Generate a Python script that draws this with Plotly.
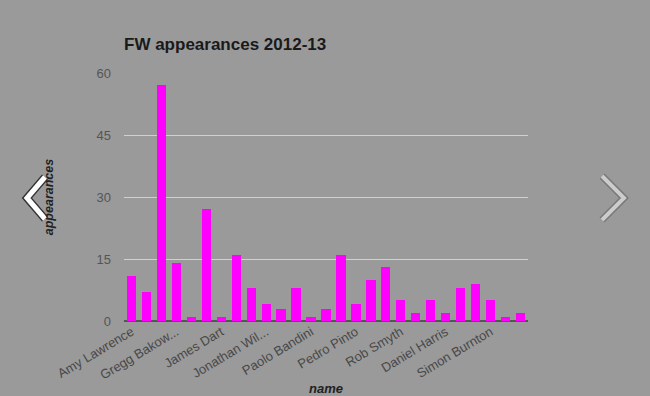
import plotly.graph_objects as go

# ---- data ----
appearances = [11, 7, 57, 14, 1, 27, 1, 16, 8, 4, 3, 8, 1, 3, 16, 4, 10, 13, 5, 2, 5, 2, 8, 9, 5, 1, 2]
shown_labels = ["Amy Lawrence", "Gregg Bakow...", "James Dart", "Jonathan Wil...", "Paolo Bandini",
                "Pedro Pinto", "Rob Smyth", "Daniel Harris", "Simon Burnton"]
label_every = 3
y_ticks = [0, 15, 30, 45, 60]

W, H = 650, 396
L, R, T, B = 124, 122, 73, 75
BG = "#9a9a9a"
FONT = "Liberation Sans, Arial, sans-serif"

positions = list(range(len(appearances)))
tick_positions = positions[::label_every]

fig = go.Figure(go.Bar(x=positions, y=appearances, marker_color="#ff00ff", width=0.62,
                       marker_line_width=0))

def px2paper(px, py):
    return (px - L) / (W - L - R), (H - B - py) / (H - T - B)

def chevron(points, color, width):
    pts = [px2paper(*p) for p in points]
    path = "M {} {} L {} {} L {} {}".format(pts[0][0], pts[0][1], pts[1][0], pts[1][1], pts[2][0], pts[2][1])
    return dict(type="path", xref="paper", yref="paper", path=path,
                line=dict(color=color, width=width), layer="above")

left = [(45, 177), (27, 198), (45, 219)]
right = [(602, 176), (624, 198), (602, 220)]
shapes = [chevron(left, "#333333", 8), chevron(left, "#ffffff", 5),
          chevron(right, "#777777", 7), chevron(right, "#cccccc", 4)]

fig.update_layout(
    width=W, height=H,
    margin=dict(l=L, r=R, t=T, b=B, autoexpand=False),
    paper_bgcolor=BG, plot_bgcolor=BG,
    font=dict(family=FONT, color="#444444", size=12),
    showlegend=False,
    bargap=0,
    title=dict(text="FW appearances 2012-13", x=L / W, xanchor="left", xref="container",
               y=1 - 44 / H, yanchor="middle", yref="container",
               font=dict(family=FONT, size=17, color="#1a1a1a", weight="bold")),
    xaxis=dict(range=[-0.5, len(appearances) - 0.5], tickmode="array", automargin=False,
               tickvals=tick_positions, ticktext=shown_labels, tickangle=-31,
               showgrid=False, zeroline=False, showline=False, ticks="",
               tickfont=dict(size=13, color="#484848"),
               title=dict(text="name", standoff=4,
                          font=dict(size=13, color="#222222", weight="bold", style="italic"))),
    yaxis=dict(range=[0, 60], tickvals=y_ticks, showgrid=True, gridcolor="#d0d0d0", gridwidth=1,
               automargin=False,
               zeroline=True, zerolinecolor="#555555", zerolinewidth=2,
               ticks="", ticklabelstandoff=12, tickfont=dict(size=13, color="#555555"),
               title=dict(text="appearances", standoff=40,
                          font=dict(size=12.5, color="#222222", weight="bold", style="italic"))),
    shapes=shapes,
)

fig.write_html("out.html")
